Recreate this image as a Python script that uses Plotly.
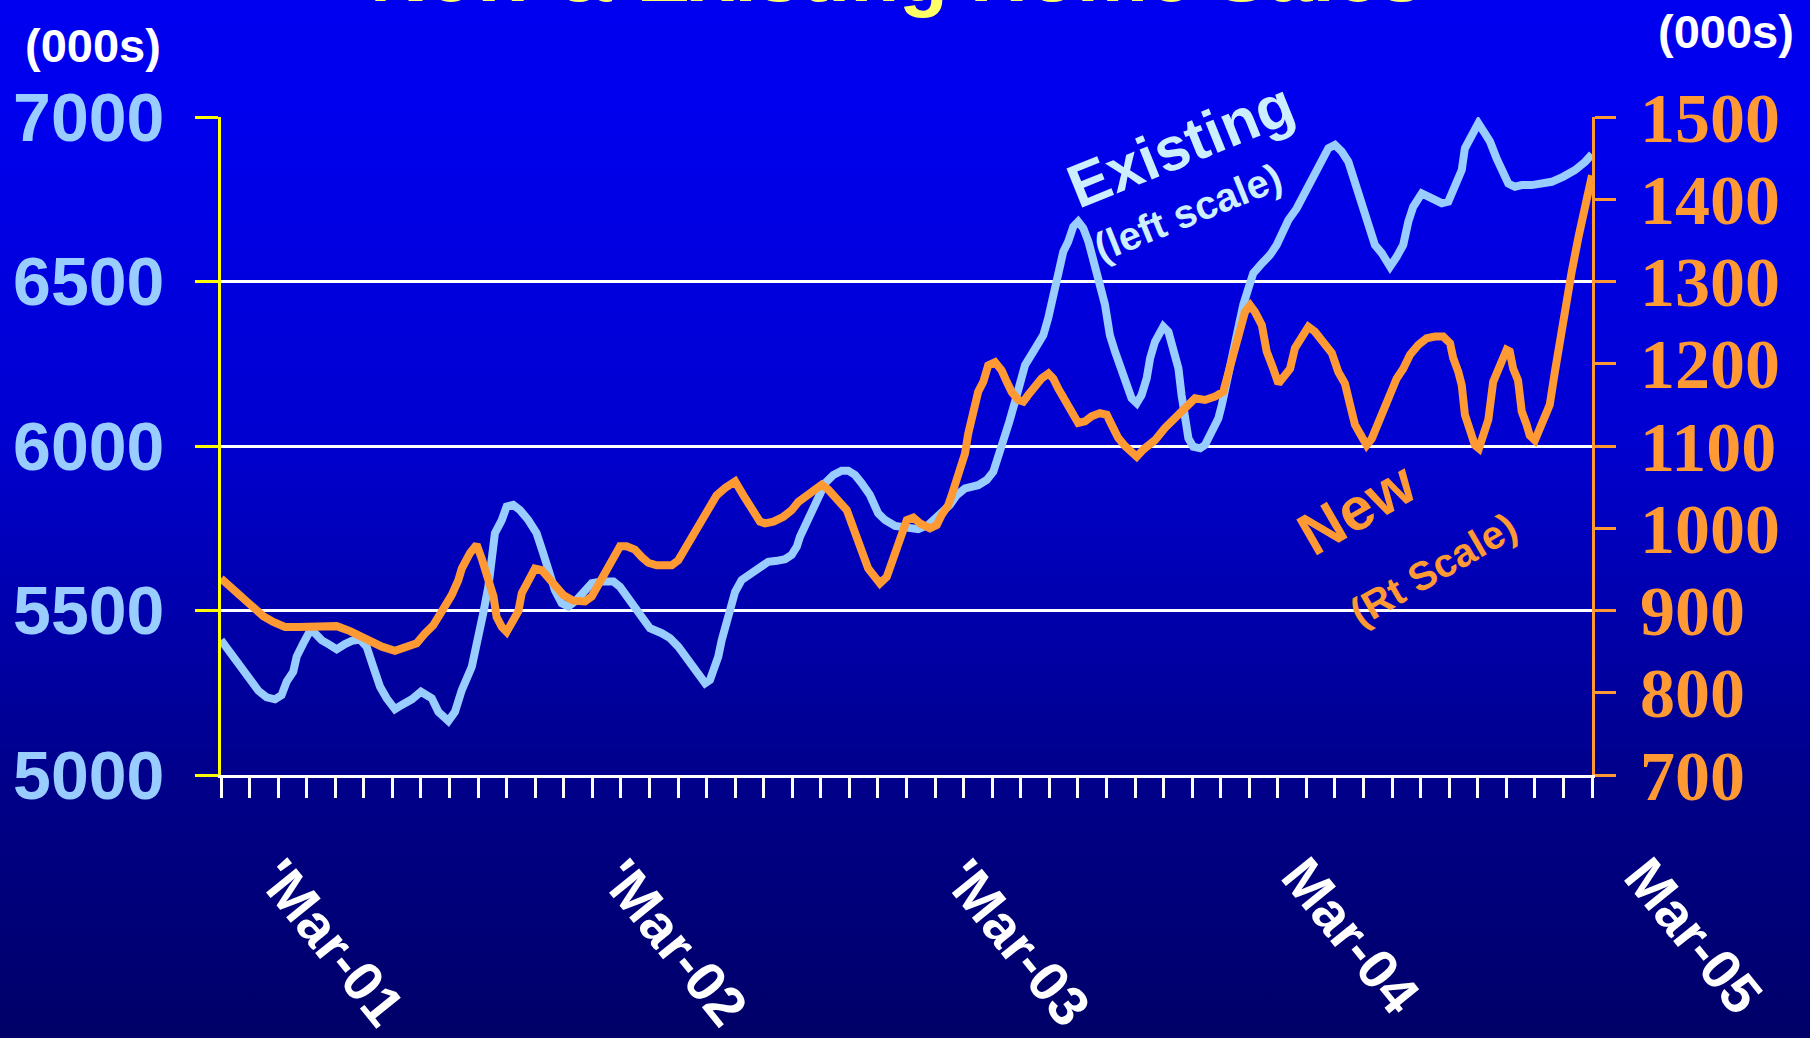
import base64
import plotly.graph_objects as go

# ---------------- data ----------------
tick_months = [0, 12, 24, 36, 48]
tick_labels = ["'Mar-01", "'Mar-02", "'Mar-03", "Mar-04", "Mar-05"]

# months after Mar-2001 ; existing home sales (000s, left scale)
existing_month = [0.00, 0.49, 0.96, 1.31, 1.60, 1.89, 2.12, 2.30, 2.53, 2.65, 2.88, 3.12, 3.29, 3.52, 3.82,
                  4.05, 4.34, 4.58, 4.87, 5.10, 5.33, 5.57, 5.80, 6.09, 6.33, 6.68, 7.00, 7.38, 7.61, 7.96,
                  8.19, 8.43, 8.78, 9.01, 9.18, 9.36, 9.48, 9.59, 9.83, 10.00, 10.23, 10.47, 10.76, 11.05,
                  11.28, 11.52, 11.69, 11.93, 12.16, 12.45, 12.68, 12.98, 13.33, 13.74, 13.97, 14.26, 14.55,
                  14.79, 15.02, 15.43, 15.72, 16.01, 16.25, 16.48, 16.77, 16.95, 17.12, 17.24, 17.41, 17.53,
                  17.71, 17.88, 18.00, 18.23, 18.58, 18.87, 19.16, 19.46, 19.75, 19.98, 20.16, 20.27, 20.56,
                  20.74, 20.91, 21.15, 21.44, 21.73, 21.96, 22.20, 22.43, 22.72, 23.01, 23.25, 23.60, 23.95,
                  24.41, 24.76, 25.06, 25.29, 25.52, 25.76, 26.05, 26.51, 26.81, 27.04, 27.21, 27.39, 27.60,
                  27.80, 27.95, 28.15, 28.44, 28.79, 28.96, 29.14, 29.31, 29.49, 29.66, 29.84, 30.01, 30.19,
                  30.37, 30.54, 30.77, 30.95, 31.12, 31.30, 31.53, 31.71, 31.88, 32.06, 32.23, 32.41, 32.53,
                  32.70, 32.82, 32.99, 33.17, 33.34, 33.52, 33.63, 33.75, 33.87, 34.04, 34.28, 34.45, 34.69,
                  34.92, 35.04, 35.21, 35.44, 35.62, 35.79, 35.97, 36.14, 36.44, 36.73, 36.96, 37.14, 37.37,
                  37.66, 37.84, 38.07, 38.30, 38.54, 38.77, 39.00, 39.24, 39.47, 39.64, 39.82, 39.99, 40.17,
                  40.40, 40.64, 40.93, 41.16, 41.39, 41.57, 41.74, 42.04, 42.39, 42.74, 42.97, 43.09, 43.26,
                  43.44, 43.55, 43.79, 44.02, 44.25, 44.43, 44.66, 44.89, 45.07, 45.30, 45.54, 45.89, 46.24,
                  46.59, 47.00, 47.41, 47.76, 48.00]
existing_value = [5410, 5350, 5294, 5256, 5236, 5230, 5243, 5284, 5314, 5360, 5400, 5439, 5431, 5410, 5395,
                  5382, 5398, 5408, 5412, 5390, 5329, 5268, 5233, 5200, 5213, 5230, 5253, 5233, 5192, 5164,
                  5192, 5258, 5329, 5410, 5491, 5572, 5653, 5735, 5775, 5816, 5821, 5805, 5775, 5735,
                  5674, 5613, 5562, 5522, 5512, 5532, 5557, 5583, 5588, 5588, 5572, 5537, 5502,
                  5477, 5446, 5431, 5416, 5390, 5360, 5340, 5294, 5279, 5289, 5319, 5360, 5410,
                  5461, 5512, 5557, 5593, 5613, 5628, 5648, 5651, 5656, 5669, 5694, 5724, 5780,
                  5816, 5851, 5887, 5912, 5925, 5925, 5912, 5887, 5851, 5795, 5775, 5757, 5750,
                  5747, 5760, 5785, 5805, 5821, 5851, 5871, 5881, 5897, 5922, 5963, 6008, 6074,
                  6135, 6175, 6246, 6287, 6337, 6388, 6449, 6520, 6591, 6621, 6667, 6682, 6662,
                  6621, 6571, 6489, 6429, 6337, 6287, 6226, 6185, 6145, 6130, 6155, 6206, 6267,
                  6317, 6337, 6363, 6347, 6287, 6236, 6155, 6084, 6023, 5998, 5993, 6003, 6043,
                  6084, 6125, 6195, 6287, 6368, 6429, 6479, 6525, 6555, 6581, 6611, 6651, 6687,
                  6722, 6753, 6793, 6834, 6874, 6905, 6915, 6895, 6864, 6819, 6773, 6733, 6682,
                  6611, 6586, 6545, 6575, 6611, 6682, 6727, 6768, 6753, 6738, 6743, 6768, 6803,
                  6839, 6905, 6945, 6981, 6950, 6925, 6874, 6829, 6798, 6788, 6793, 6793, 6798,
                  6803, 6819, 6839, 6864, 6887]

# months after Mar-2001 ; new home sales (000s, right scale)
new_month = [0.00, 0.37, 0.84, 1.19, 1.48, 1.83, 2.24, 2.71, 3.29, 4.05, 4.52, 4.93, 5.28, 5.63, 6.09,
             6.44, 6.85, 7.14, 7.43, 7.73, 8.08, 8.31, 8.43, 8.72, 8.95, 9.13, 9.36, 9.54, 9.65, 9.83,
             10.00, 10.18, 10.41, 10.53, 10.76, 10.99, 11.23, 11.46, 11.75, 11.98, 12.33, 12.74, 12.98,
             13.27, 13.56, 13.79, 13.97, 14.20, 14.49, 14.73, 14.96, 15.25, 15.78, 16.01, 16.25, 16.48,
             16.77, 17.06, 17.35, 17.65, 18.00, 18.29, 18.58, 18.87, 19.05, 19.34, 19.69, 19.98, 20.21,
             20.51, 20.80, 21.03, 21.26, 21.61, 21.91, 22.08, 22.26, 22.49, 22.66, 22.90, 23.07, 23.31,
             23.48, 23.66, 23.83, 24.01, 24.24, 24.47, 24.82, 25.06, 25.23, 25.46, 25.58, 25.76, 25.93,
             26.05, 26.16, 26.34, 26.51, 26.69, 26.86, 27.10, 27.33, 27.51, 27.68, 27.91, 28.09, 28.26,
             28.50, 28.73, 28.97, 29.14, 29.31, 29.55, 29.78, 30.01, 30.25, 30.48, 30.77, 31.01, 31.18,
             31.41, 31.65, 31.88, 32.06, 32.30, 32.70, 33.05, 33.40, 33.75, 34.10, 34.45, 34.80, 35.09,
             35.27, 35.50, 35.62, 35.85, 36.03, 36.20, 36.44, 36.61, 36.84, 37.02, 37.25, 37.43, 37.60,
             37.84, 38.07, 38.30, 38.59, 38.89, 39.12, 39.35, 39.53, 39.70, 39.88, 40.11, 40.29, 40.52,
             40.75, 40.99, 41.16, 41.39, 41.63, 41.92, 42.21, 42.50, 42.79, 43.03, 43.14, 43.32, 43.44,
             43.55, 43.73, 43.90, 44.04, 44.19, 44.37, 44.54, 44.72, 44.89, 45.01, 45.12, 45.24, 45.41,
             45.54, 45.71, 45.82, 46.00, 46.18, 46.35, 46.52, 46.70, 46.88, 47.05, 47.29, 47.52, 47.76,
             48.00]
new_value = [939, 927, 914, 903, 893, 886, 880, 880, 880, 881, 875, 868, 862, 856, 851,
             856, 860, 872, 882, 899, 919, 937, 951, 970, 980, 963, 941, 917, 892, 880,
             874, 884, 899, 921, 935, 951, 949, 939, 927, 919, 912, 911, 917,
             935, 953, 965, 978, 978, 974, 965, 958, 955, 955, 961, 976, 986,
             1004, 1024, 1040, 1049, 1057, 1040, 1026, 1008, 1006, 1008, 1014, 1022, 1032,
             1040, 1049, 1053, 1047, 1034, 1022, 1006, 986, 967, 951, 941, 933, 941,
             959, 978, 990, 1010, 1013, 1006, 1000, 1004, 1016, 1028, 1040, 1059, 1075,
             1091, 1115, 1142, 1166, 1178, 1198, 1202, 1192, 1178, 1166, 1156, 1154, 1162,
             1172, 1182, 1188, 1182, 1170, 1154, 1140, 1128, 1130, 1136, 1140, 1138, 1126,
             1110, 1100, 1092, 1087, 1096, 1107, 1122, 1134, 1146, 1158, 1156, 1160, 1166,
             1190, 1219, 1239, 1263, 1271, 1263, 1247, 1215, 1194, 1176, 1186, 1194, 1219,
             1231, 1245, 1239, 1227, 1213, 1190, 1176, 1150, 1126, 1115, 1101, 1109, 1128,
             1148, 1166, 1182, 1194, 1211, 1223, 1231, 1233, 1233, 1225, 1207, 1190, 1174,
             1138, 1119, 1101, 1097, 1115, 1132, 1178, 1194, 1213, 1217, 1215, 1194, 1180,
             1142, 1126, 1113, 1107, 1122, 1142, 1150, 1190, 1227, 1271, 1312, 1353, 1393,
             1429]

# ---------------- styling ----------------
W, H = 1810, 1038
ML, MR, MT, MB = 221, 218, 117, 263
PW, PH = W - ML - MR, H - MT - MB

SANS = "Arial, Liberation Sans, sans-serif"
SERIF = "Times New Roman, Liberation Serif, serif"
LIGHT_BLUE = "#99CCFF"
ORANGE = "#FF9933"
YELLOW = "#FFFF00"

# vertical gradient background (pixel stop, blue level)
stops = [(0, 240), (110, 238), (440, 208), (780, 138), (H, 104)]
stop_xml = "".join(
    f'<stop offset="{p / H:.4f}" stop-color="rgb(0,0,{b})"/>' for p, b in stops)
svg = (f'<svg xmlns="http://www.w3.org/2000/svg" width="{W}" height="{H}" '
       f'viewBox="0 0 {W} {H}" preserveAspectRatio="none"><defs>'
       f'<linearGradient id="g" x1="0" y1="0" x2="0" y2="1">{stop_xml}</linearGradient>'
       f'</defs><rect x="0" y="0" width="{W}" height="{H}" fill="url(#g)"/></svg>')
bg_src = "data:image/svg+xml;base64," + base64.b64encode(svg.encode()).decode()

fig = go.Figure()
fig.add_trace(go.Scatter(x=existing_month, y=existing_value, mode="lines", yaxis="y",
                         line=dict(color=LIGHT_BLUE, width=8), hoverinfo="skip",
                         showlegend=False))
fig.add_trace(go.Scatter(x=new_month, y=new_value, mode="lines", yaxis="y2",
                         line=dict(color=ORANGE, width=8), hoverinfo="skip",
                         showlegend=False))

annotations = []
# clipped title at the very top
annotations.append(dict(text="New &amp; Existing Home Sales", xref="paper", yref="paper",
                        x=(897 - ML) / PW, y=1, yshift=144, xanchor="center", yanchor="middle",
                        showarrow=False, font=dict(family=SANS, size=80, color="#FFFF66", weight="bold")))
# units labels
annotations.append(dict(text="(000s)", xref="paper", yref="paper", x=(93 - ML) / PW, y=1,
                        yshift=MT - 45, xanchor="center", yanchor="middle", showarrow=False,
                        font=dict(family=SANS, size=47, color="white", weight="bold")))
annotations.append(dict(text="(000s)", xref="paper", yref="paper", x=(1726 - ML) / PW, y=1,
                        yshift=MT - 31, xanchor="center", yanchor="middle", showarrow=False,
                        font=dict(family=SANS, size=47, color="white", weight="bold")))
# series labels
annotations.append(dict(text="Existing", x=33.6, y=6915, xref="x", yref="y", textangle=-22,
                        showarrow=False, font=dict(family=SANS, size=61, color="#CCEEFF", weight="bold")))
annotations.append(dict(text="(left scale)", x=33.85, y=6710, xref="x", yref="y", textangle=-22,
                        showarrow=False, font=dict(family=SANS, size=40, color="#CCEEFF", weight="bold")))
annotations.append(dict(text="New", x=39.78, y=5810, xref="x", yref="y", textangle=-30,
                        showarrow=False, font=dict(family=SANS, size=60, color=ORANGE, weight="bold")))
annotations.append(dict(text="(Rt Scale)", x=42.45, y=5625, xref="x", yref="y", textangle=-30,
                        showarrow=False, font=dict(family=SANS, size=40, color=ORANGE, weight="bold")))
# rotated date labels
for m, lab in zip(tick_months, tick_labels):
    apos = lab.startswith("'")
    annotations.append(dict(text=lab, x=m, xref="x", y=0, yref="paper",
                            xshift=111 if apos else 102, yshift=-(167 if apos else 160),
                            xanchor="center", yanchor="middle", textangle=51, showarrow=False,
                            font=dict(family=SANS, size=56, color="white", weight="bold")))

fig.update_layout(
    width=W, height=H,
    margin=dict(l=ML, r=MR, t=MT, b=MB, pad=0, autoexpand=False),
    paper_bgcolor="#0000B0",
    plot_bgcolor="rgba(0,0,0,0)",
    hovermode=False,
    showlegend=False,
    images=[dict(source=bg_src, xref="paper", yref="paper", x=-ML / PW, y=1 + MT / PH,
                 sizex=W / PW, sizey=H / PH, xanchor="left", yanchor="top",
                 sizing="stretch", layer="below")],
    xaxis=dict(range=[0, 48], tick0=0, dtick=1, showgrid=False, zeroline=False,
               showline=True, linecolor="white", linewidth=3,
               ticks="outside", ticklen=20, tickwidth=3, tickcolor="white",
               showticklabels=False),
    yaxis=dict(range=[5000, 7000], tick0=5000, dtick=500, showgrid=True, gridcolor="white",
               gridwidth=3, zeroline=False, showline=True, linecolor=YELLOW, linewidth=3,
               ticks="outside", ticklen=23, tickwidth=3, tickcolor=YELLOW,
               ticklabelstandoff=17,
               tickfont=dict(family=SANS, size=68, color=LIGHT_BLUE, weight="bold")),
    yaxis2=dict(range=[700, 1500], tick0=700, dtick=100, overlaying="y", side="right",
                showgrid=False, zeroline=False, showline=True, linecolor=ORANGE, linewidth=3,
                ticks="outside", ticklen=21, tickwidth=3, tickcolor=ORANGE,
                ticklabelstandoff=10,
                tickfont=dict(family=SERIF, size=70, color=ORANGE, weight="bold")),
    yaxis3=dict(range=[700, 1500], tick0=700, dtick=100, overlaying="y", side="right",
                showgrid=False, zeroline=False, showline=False,
                ticks="inside", ticklen=21, tickwidth=3, tickcolor=ORANGE,
                showticklabels=False),
    annotations=annotations,
)

fig.write_html("out.html", config={"displayModeBar": False, "staticPlot": True},
               post_script="document.body.style.margin='0';document.body.style.background='#000068';")
